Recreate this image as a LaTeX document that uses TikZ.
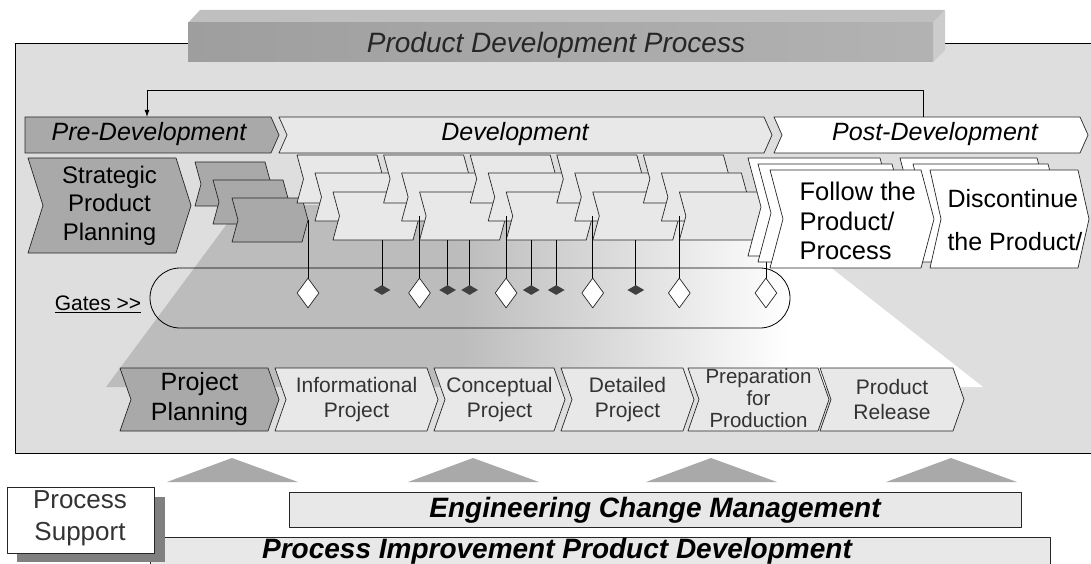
\documentclass[tikz,border=0pt]{standalone}
\usepackage{fontspec}
\setmainfont{Liberation Sans}
\usetikzlibrary{shapes.geometric,arrows.meta}

\definecolor{fond}{HTML}{DEDEDE}
\definecolor{fonce}{HTML}{A9A9A9}
\definecolor{clair}{HTML}{E8E8E8}
\definecolor{entonnoir}{HTML}{BCBCBC}

\newcommand{\fsz}[2]{\fontsize{#1}{#2}\selectfont}
% chevron : style, nom, x, y, largeur, hauteur, pointe
\newcommand{\chev}[7]{%
  \draw[#1] (#3,#4) coordinate (#2-nw) -- ++(#5,0) -- ++(#7,{(#6)/2}) coordinate (#2-tip)
    -- ++(-#7,{(#6)/2}) coordinate (#2-se) -- ++(-#5,0) coordinate (#2-sw)
    -- ++(#7,{-(#6)/2}) -- cycle;
  \coordinate (#2) at ({#3+(#5)/2+(#7)/2},{#4+(#6)/2});
}

\begin{document}
\begin{tikzpicture}[x=1pt, y=-1pt, line join=round,
  box/.style={draw=black!85, line width=0.7pt},
  gate/.style={diamond, draw=black!85, line width=0.7pt, fill=white, minimum width=22pt, minimum height=30pt, inner sep=0pt},
  mile/.style={diamond, fill=black!75, minimum width=17pt, minimum height=10pt, inner sep=0pt},
  phase/.style={font=\fsz{25}{28}\itshape, anchor=base},
  small/.style={font=\fsz{21}{25}, text=black!80, align=center}]

\clip (0,0) rectangle (1091,564);

% cadre
\draw[line width=0.9pt, fill=fond] (15,43) rectangle (1100,453);

% barre de titre
\fill[black!25] (188,23) -- (200,10) -- (945,10) -- (933,23) -- cycle;
\fill[black!20] (933,23) -- (945,10) -- (945,50) -- (933,62) -- cycle;
\shade[left color=black!38, right color=black!30] (188,23) rectangle (933,62);
\node[font=\fsz{28}{30}\itshape, anchor=base, text=black!85] (title) at (556,53) {Product Development Process};

% entonnoir
\begin{scope}
\clip (241,205) -- (751,205) -- (983,387) -- (106,387) -- cycle;
\fill[entonnoir] (100,200) rectangle (461,390);
\shade[left color=entonnoir, right color=white] (460,200) rectangle (790,390);
\fill[white] (789,200) rectangle (990,390);
\end{scope}

% gates
\draw[line width=0.8pt, rounded corners=30pt] (150,268) rectangle (790,328);
\node[font=\fsz{21}{22}] (gates) at (98,304) {\underline{Gates >{}>}};

% phases
\draw[box, fill=fonce] (25,117) coordinate (pre-nw) -- (271,117) -- (279,135) -- (271,153) -- (25,153) -- cycle;
\chev{box, fill=clair}{dev}{279}{117}{485}{36}{8}
\chev{box, fill=white}{post}{774}{117}{306}{36}{8}
\node[phase] (tpre) at (149,141) {Pre-Development};
\node[phase] (tdev) at (515,141) {Development};
\node[phase] (tpost) at (935,141) {Post-Development};
\draw[line width=0.9pt, -{Latex[length=7pt,width=5pt]}] ([xshift=149pt]post-nw) -- ++(0,-27) -| ([xshift=122pt]pre-nw);

% pre-developpement
\chev{box, fill=fonce}{strat}{28}{158}{148}{95}{15}
\node[font=\fsz{24}{28.5}, align=center] (tstrat) at (strat) {Strategic\\Product\\Planning};
\chev{box, fill=fonce}{gs1}{195}{162}{70}{44}{6}
\chev{box, fill=fonce}{gs2}{213}{180}{70}{44}{6}
\chev{box, fill=fonce}{gs3}{232}{198}{70}{44}{6}

% developpement
\foreach \k in {0,...,4} {
  \pgfmathsetmacro\xc{297+86.6*\k}
  \chev{box, fill=clair}{d\k a}{\xc}{155}{80}{48}{6.5}
  \chev{box, fill=clair}{d\k b}{\xc+18}{173}{80}{48}{6.5}
  \chev{box, fill=clair}{d\k c}{\xc+36}{192}{80}{48}{6.5}
}

% jalons
\coordinate (gy) at (0,293);
\foreach \t [count=\i] in {gs3,d0c,d1c,d2c,d3c,d4c}
  \draw[line width=0.7pt] (\t-tip) -- (\t-tip |- gy) node[gate] (gw\i) {};
\foreach \b/\o [count=\i] in {d0c/49,d1c/28,d1c/50,d2c/25,d2c/50,d3c/43}
  \draw[line width=0.7pt] ([xshift=\o pt]\b-sw) -- ++(0,50) node[mile] (gd\i) {};

% post-developpement
\chev{box, fill=white}{fa}{748}{158}{132}{98}{13}
\chev{box, fill=white}{fb}{758}{164}{134}{98}{13}
\chev{box, fill=white}{xa}{900}{158}{137}{98}{13}
\chev{box, fill=white}{xb}{913}{164}{135}{98}{13}
\chev{box, fill=white}{fc}{770}{170}{151}{98}{13}
\chev{box, fill=white}{xc}{930}{170}{148}{98}{11}
\node[font=\fsz{25.5}{29.5}, align=left, anchor=west] (tfollow) at (796,221) {Follow the\\Product/\\Process};
\node[font=\fsz{25}{43}, align=left, anchor=west] (tdisc) at (944,220) {Discontinue\\the Product/};

% projet
\chev{box, fill=fonce}{pp}{120}{368}{148}{63}{11}
\chev{box, fill=clair}{inf}{275}{368}{152}{63}{11}
\chev{box, fill=clair}{con}{434}{368}{120}{63}{11}
\chev{box, fill=clair}{det}{561}{368}{122}{63}{11}
\chev{box, fill=clair}{prep}{688}{368}{130}{63}{11}
\chev{box, fill=clair}{rel}{820}{368}{133}{63}{11}
\node[font=\fsz{25}{30}, align=center] (tpp) at (pp) {Project\\Planning};
\node[small] (tinf) at (inf) {Informational\\Project};
\node[small] (tcon) at (con) {Conceptual\\Project};
\node[small] (tdet) at (det) {Detailed\\Project};
\node[small, font=\fsz{20.5}{22}] (tprep) at ([yshift=1pt]prep) {Preparation\\for\\Production};
\node[small] (trel) at (rel) {Product\\Release};

% support
\foreach \a in {167,408,646,886}
  \fill[fonce] (\a,482) -- ++(65,-24) -- ++(66,24) -- cycle;
\draw[box, fill=clair] (289,492) rectangle (1021,527);
\node[font=\fsz{28}{30}\bfseries\itshape, anchor=base] (tecm) at (655,517) {Engineering Change Management};
\draw[box, fill=clair] (150,537) rectangle (1050,580);
\node[font=\fsz{28}{30}\bfseries\itshape, anchor=base] (tpipd) at (557,558) {Process Improvement Product Development};
\fill[black!50] (17,497) rectangle (165,562);
\draw[box, fill=white] (7,487) rectangle (154,553);
\node[font=\fsz{26}{32}, align=center, text=black!80] (tps) at (80,518) {Process\\Support};

\end{tikzpicture}
\end{document}
